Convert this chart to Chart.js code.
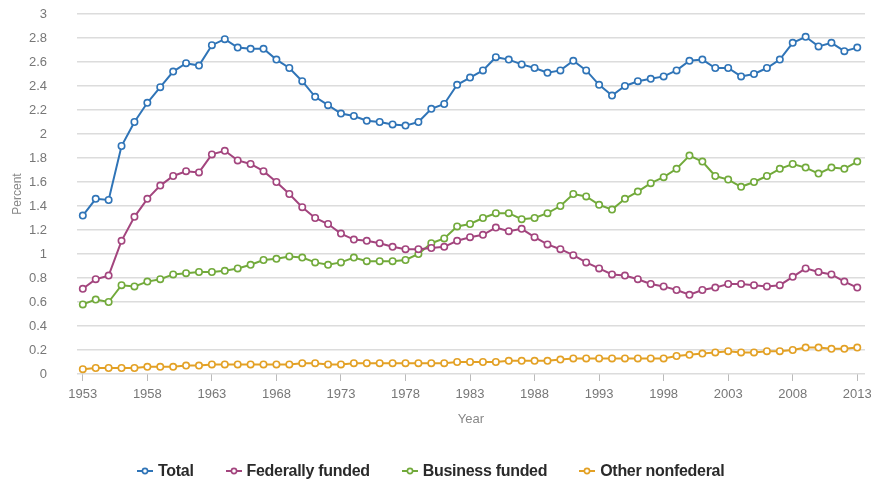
<!DOCTYPE html>
<html>
<head>
<meta charset="utf-8">
<script src="https://cdn.jsdelivr.net/npm/chart.js@4.4.1/dist/chart.umd.min.js"></script>
<style>
  html, body { margin: 0; padding: 0; background: #fff; overflow: hidden; }
  #wrap { position: relative; width: 880px; height: 480px; }
  #legend { position: absolute; left: 137px; top: 462px; white-space: nowrap;
            font-family: "Liberation Sans", Arial, sans-serif;
            font-weight: bold; font-size: 16px; color: #2a2a2a; letter-spacing: -0.3px; }
  #legend span.item { display: inline-block; margin-right: 32px; }
  #legend svg { vertical-align: 0px; margin-right: 5px; }
</style>
</head>
<body>
<div id="wrap">
  <canvas id="chart" width="880" height="480"></canvas>
  <div id="legend"></div>
</div>
<script>
var years = [];
for (var y = 1953; y <= 2013; y++) years.push(y);

var seriesNames = ['Total', 'Federally funded', 'Business funded', 'Other nonfederal'];
var seriesColors = ['#2f74b7', '#a3457e', '#72aa3b', '#e3a125'];

var total = [1.32, 1.46, 1.45, 1.90, 2.10, 2.26, 2.39, 2.52, 2.59, 2.57,
  2.74, 2.79, 2.72, 2.71, 2.71, 2.62, 2.55, 2.44, 2.31, 2.24,
  2.17, 2.15, 2.11, 2.10, 2.08, 2.07, 2.10, 2.21, 2.25, 2.41,
  2.47, 2.53, 2.64, 2.62, 2.58, 2.55, 2.51, 2.53, 2.61, 2.53,
  2.41, 2.32, 2.40, 2.44, 2.46, 2.48, 2.53, 2.61, 2.62, 2.55,
  2.55, 2.48, 2.50, 2.55, 2.62, 2.76, 2.81, 2.73, 2.76, 2.69, 2.72];

var federal = [0.71, 0.79, 0.82, 1.11, 1.31, 1.46, 1.57, 1.65, 1.69, 1.68,
  1.83, 1.86, 1.78, 1.75, 1.69, 1.60, 1.50, 1.39, 1.30, 1.25,
  1.17, 1.12, 1.11, 1.09, 1.06, 1.04, 1.04, 1.05, 1.06, 1.11,
  1.14, 1.16, 1.22, 1.19, 1.21, 1.14, 1.08, 1.04, 0.99, 0.93,
  0.88, 0.83, 0.82, 0.79, 0.75, 0.73, 0.70, 0.66, 0.70, 0.72,
  0.75, 0.75, 0.74, 0.73, 0.74, 0.81, 0.88, 0.85, 0.83, 0.77, 0.72];

var business = [0.58, 0.62, 0.60, 0.74, 0.73, 0.77, 0.79, 0.83, 0.84, 0.85,
  0.85, 0.86, 0.88, 0.91, 0.95, 0.96, 0.98, 0.97, 0.93, 0.91,
  0.93, 0.97, 0.94, 0.94, 0.94, 0.95, 1.00, 1.09, 1.13, 1.23,
  1.25, 1.30, 1.34, 1.34, 1.29, 1.30, 1.34, 1.40, 1.50, 1.48,
  1.41, 1.37, 1.46, 1.52, 1.59, 1.64, 1.71, 1.82, 1.77, 1.65,
  1.62, 1.56, 1.60, 1.65, 1.71, 1.75, 1.72, 1.67, 1.72, 1.71, 1.77];

var otherNonfed = [0.04, 0.05, 0.05, 0.05, 0.05, 0.06, 0.06, 0.06, 0.07, 0.07,
  0.08, 0.08, 0.08, 0.08, 0.08, 0.08, 0.08, 0.09, 0.09, 0.08,
  0.08, 0.09, 0.09, 0.09, 0.09, 0.09, 0.09, 0.09, 0.09, 0.10,
  0.10, 0.10, 0.10, 0.11, 0.11, 0.11, 0.11, 0.12, 0.13, 0.13,
  0.13, 0.13, 0.13, 0.13, 0.13, 0.13, 0.15, 0.16, 0.17, 0.18,
  0.19, 0.18, 0.18, 0.19, 0.19, 0.20, 0.22, 0.22, 0.21, 0.21, 0.22];

var xTicks = [1953, 1958, 1963, 1968, 1973, 1978, 1983, 1988, 1993, 1998, 2003, 2008, 2013];

var allSeries = [total, federal, business, otherNonfed];

function toPoints(arr) {
  var pts = [];
  for (var i = 0; i < arr.length; i++) pts.push({ x: years[i], y: arr[i] });
  return pts;
}

var datasets = [];
for (var k = 0; k < allSeries.length; k++) {
  datasets.push({
    label: seriesNames[k],
    data: toPoints(allSeries[k]),
    borderColor: seriesColors[k],
    backgroundColor: '#fff',
    pointBackgroundColor: '#fff',
    pointBorderColor: seriesColors[k],
    pointBorderWidth: 1.6,
    pointRadius: 3.2,
    borderWidth: 2,
    tension: 0
  });
}

var tickFont = { family: 'Arial, "Liberation Sans", sans-serif', size: 13 };
var titleFont = { family: 'Arial, "Liberation Sans", sans-serif', size: 13 };

var ctx = document.getElementById('chart').getContext('2d');
var myChart = new Chart(ctx, {
  type: 'line',
  data: { datasets: datasets },
  options: {
    responsive: false,
    animation: false,
    layout: { padding: { top: 14, right: 15, bottom: 51, left: 0 } },
    plugins: { legend: { display: false }, tooltip: { enabled: false } },
    scales: {
      x: {
        type: 'linear',
        min: 1952.55,
        max: 2013.6,
        afterBuildTicks: function (s) {
          s.ticks = xTicks.map(function (v) { return { value: v }; });
        },
        afterFit: function (s) { s.height = 55; },
        grid: { drawOnChartArea: false, tickLength: 7, color: '#bbb' },
        border: { display: false },
        ticks: { color: '#777', font: tickFont, padding: 6, maxRotation: 0,
                 callback: function (v) { return String(v); } },
        title: { display: true, text: 'Year', color: '#888', font: titleFont,
                 padding: { top: 2, bottom: 2 } }
      },
      y: {
        min: 0,
        max: 3,
        afterFit: function (s) {
          s.width = 77;
          // tick padding is only for the horizontal gap
          s.paddingTop = 0;
          s.paddingBottom = 0;
        },
        ticks: { stepSize: 0.2, color: '#777', font: tickFont, padding: 30,
                 callback: function (v) { return String(+v.toFixed(1)); } },
        grid: { drawTicks: false, color: '#dcdcdc', lineWidth: 1.5 },
        border: { display: false },
        title: { display: true, text: 'Percent', color: '#888',
                 font: { family: 'Arial, "Liberation Sans", sans-serif', size: 12 },
                 padding: { top: 10, bottom: 0 } }
      }
    }
  }
});

// legend below the chart, built from the datasets
var legendHtml = '';
for (var j = 0; j < seriesNames.length; j++) {
  var c = seriesColors[j];
  legendHtml += '<span class="item"><svg width="16" height="10">' +
    '<line x1="0" y1="5" x2="16" y2="5" stroke="' + c + '" stroke-width="2"/>' +
    '<circle cx="8" cy="5" r="2.6" fill="#fff" stroke="' + c + '" stroke-width="1.6"/>' +
    '</svg>' + seriesNames[j] + '</span>';
}
document.getElementById('legend').innerHTML = legendHtml;
</script>
</body>
</html>
